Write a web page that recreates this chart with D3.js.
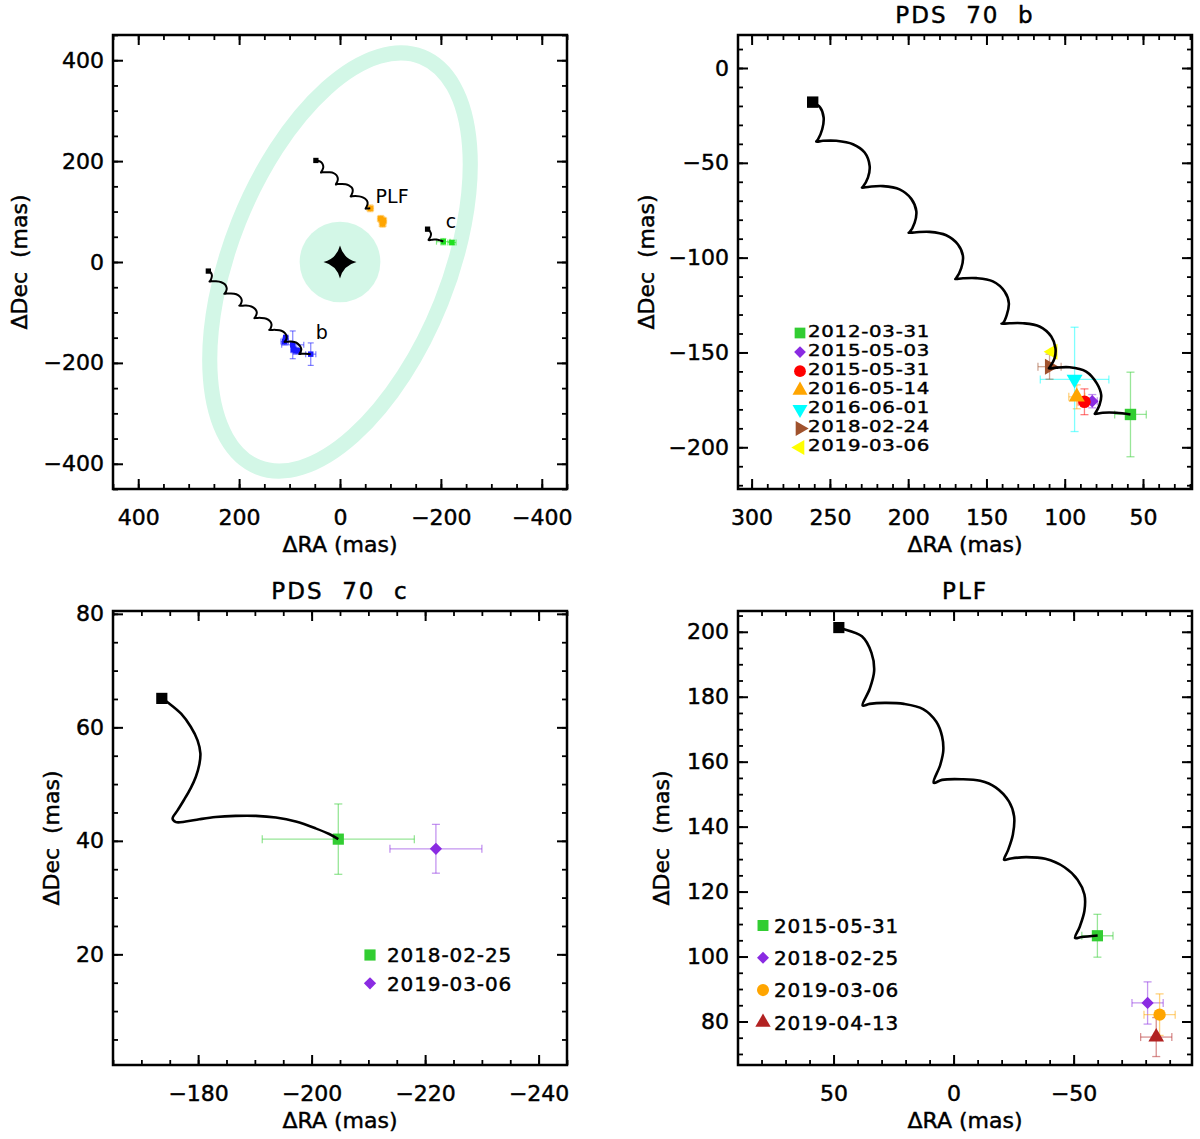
<!DOCTYPE html>
<html>
<head>
<meta charset="utf-8">
<script src="https://cdn.jsdelivr.net/npm/d3@7"></script>
<style>
  body { margin: 0; background: #fff; }
  text { font-family: "DejaVu Sans", sans-serif; }
</style>
</head>
<body>
<div id="chart"></div>
<script>
// ---------- PDS 70 b ----------
const bDates = ["2012-03-31", "2015-05-03", "2015-05-31", "2016-05-14", "2016-06-01", "2018-02-24", "2019-03-06"];
const bRA = [58.0, 82.4, 87.4, 92.3, 93.7, 109.7, 107.6];
const bDec = [-182.7, -175.7, -176.0, -173.4, -164.2, -157.5, -149.6];
const bRAerr = [10.1, 3.2, 4.0, 5.1, 21.9, 7.4, 1.5];
const bDecErr = [22.3, 3.5, 6.8, 6.3, 27.5, 6.6, 1.5];
const bColors = ["#32cd32", "#8a2be2", "#ff0000", "#ffa500", "#00ffff", "#a0522d", "#ffff00"];
const bShapes = ["square", "diamond", "circle", "triUp", "triDown", "triRight", "triLeft"];
const bTrack = [
  [261, -18], [256.2, -20.8], [254.0, -26.1], [254.9, -32.3], [257.6, -37.6], [258.7, -38.8],
  [254.4, -38.4], [245.9, -38.4], [235.3, -40.2], [227.8, -44.6], [224.6, -51.7], [225.7, -57.8], [228.9, -62.6], [229.5, -63.1],
  [224.6, -62.6], [216.1, -62.3], [205.5, -64.0], [198.0, -69.0], [194.8, -75.5], [195.9, -81.7], [199.1, -86.6], [199.7, -86.9],
  [194.8, -86.6], [186.3, -86.4], [175.7, -88.2], [168.2, -93.1], [165.0, -99.3], [166.1, -105.5], [169.3, -110.8], [169.9, -111.3],
  [165.0, -110.9], [156.5, -110.8], [145.9, -112.5], [138.4, -117.8], [135.7, -124.0], [137.0, -130.2], [139.5, -134.6], [140.4, -134.9],
  [135.2, -134.6], [126.7, -134.6], [116.1, -136.3], [108.6, -141.6], [105.9, -147.8], [106.5, -153.1], [109.3, -157.5], [110.1, -158.4],
  [105.4, -158.0], [96.9, -157.8], [86.3, -160.1], [79.5, -166.3], [76.7, -172.5], [77.8, -177.8], [80.3, -181.8], [80.8, -182.4],
  [75.7, -181.8], [67.1, -181.8], [58.0, -182.7]
];

// ---------- PDS 70 c ----------
const cDates = ["2018-02-25", "2019-03-06"];
const cRA = [-204.7, -221.9];
const cDec = [40.3, 38.6];
const cRAerr = [13.4, 8.1];
const cDecErr = [6.2, 4.3];
const cColors = ["#32cd32", "#8a2be2"];
const cShapes = ["square", "diamond"];
const cTrack = [
  [-173.6, 65.1], [-174.9, 64.2], [-177.0, 62.4], [-178.7, 60.1], [-179.9, 57.7], [-180.4, 55.4], [-180.2, 53.4],
  [-179.6, 51.3], [-178.7, 49.3], [-177.5, 47.2], [-176.4, 45.4], [-175.5, 43.9], [-176.1, 43.3], [-177.8, 43.4],
  [-180.2, 43.8], [-183.1, 44.2], [-186.6, 44.4], [-190.2, 44.4], [-193.7, 44.1], [-197.2, 43.4], [-200.7, 42.2],
  [-203.1, 41.2], [-204.7, 40.3]
];

// ---------- PLF ----------
const plfDates = ["2015-05-31", "2018-02-25", "2019-03-06", "2019-04-13"];
const plfRA = [-59.9, -80.8, -85.8, -84.4];
const plfDec = [106.4, 85.7, 82.1, 75.2];
const plfRAerr = [6.5, 6.5, 6.5, 6.5];
const plfDecErr = [6.6, 6.5, 6.4, 6.0];
const plfColors = ["#32cd32", "#8a2be2", "#ffa500", "#b22222"];
const plfShapes = ["square", "diamond", "circle", "triUp"];
const plfTrack = [
  [47.8, 201.3], [46.5, 201.0], [38.2, 198.6], [34.2, 193.5], [33.1, 187.9], [35.0, 182.3], [37.9, 177.3],
  [35.0, 177.8], [28.7, 178.1], [20.7, 177.8], [12.7, 176.2], [7.2, 172.3], [4.8, 167.8], [4.3, 163.3], [5.6, 158.9], [8.3, 153.5],
  [4.8, 154.4], [-3.2, 154.6], [-11.1, 154.1], [-17.5, 152.1], [-23.1, 147.7], [-25.2, 143.2], [-24.7, 137.6], [-22.6, 132.6], [-21.0, 129.8],
  [-23.9, 130.2], [-30.2, 130.6], [-38.2, 130.1], [-46.2, 127.5], [-51.7, 123.6], [-54.5, 119.1], [-54.5, 114.1], [-52.5, 109.1], [-50.6, 105.7],
  [-53.3, 106.0], [-60.0, 106.5]
];

// ---------- overview (disk + labels) ----------
const diskSemiMajor = 438;   // mas, ring centre line
const diskSemiMinor = 216;
const diskTilt = 21.8;       // deg from north, towards west
const diskRingWidth = 30;    // mas
const gapRadius = 80;        // mas
const overviewLabels = ["PLF", "c", "b"];
const overviewLabelRA = [-70.6, -209.7, 48.1];
const overviewLabelDec = [117.1, 67.6, -151.8];

// ---------- drawing ----------
const width = 1200, height = 1139;
const mint = "#d3f7e7";
const ink = 0.45; // slight outline so glyphs look as heavy as the original

const svg = d3.select("#chart").append("svg")
  .attr("width", width)
  .attr("height", height)
  .style("background", "#fff");

const symbolTypes = {
  square: [d3.symbolSquare, 0, 1],
  diamond: [d3.symbolSquare, 45, 0.6],
  circle: [d3.symbolCircle, 0, 0.95],
  triUp: [d3.symbolTriangle, 0, 0.85],
  triDown: [d3.symbolTriangle, 180, 0.85],
  triRight: [d3.symbolTriangle, 90, 0.85],
  triLeft: [d3.symbolTriangle, -90, 0.85]
};

function marker(g, shape, color, cx, cy, size) {
  var t = symbolTypes[shape];
  g.append("path")
    .attr("d", d3.symbol().type(t[0]).size(size * t[2])())
    .attr("transform", `translate(${cx},${cy}) rotate(${t[1]})`)
    .attr("fill", color);
}

function tickList(domain, step) {
  var lo = Math.min(domain[0], domain[1]), hi = Math.max(domain[0], domain[1]);
  return d3.range(Math.ceil(lo / step - 1e-9) * step, hi + 1e-9, step);
}

function heavy(sel) {
  return sel.attr("fill", "#000").attr("stroke", "#000").attr("stroke-width", ink);
}

function makePanel(cfg) {
  var g = svg.append("g");
  var x = d3.scaleLinear().domain(cfg.xDomain).range([cfg.x0, cfg.x1]);
  var y = d3.scaleLinear().domain(cfg.yDomain).range([cfg.y1, cfg.y0]);

  var xMaj = tickList(cfg.xDomain, cfg.xMajor), xMin = tickList(cfg.xDomain, cfg.xMinor);
  var yMaj = tickList(cfg.yDomain, cfg.yMajor), yMin = tickList(cfg.yDomain, cfg.yMinor);

  var axes = g.append("g").attr("class", "axes");

  function styleAxis(sel, w) {
    sel.select(".domain").remove();
    sel.selectAll(".tick line").attr("stroke", "#000").attr("stroke-width", w);
    sel.attr("font-size", 22).attr("font-family", "DejaVu Sans");
    heavy(sel.selectAll("text"));
  }

  // major ticks with labels (bottom / left), mirrored on top / right
  axes.append("g").attr("transform", `translate(0,${cfg.y1})`)
    .call(d3.axisBottom(x).tickValues(xMaj).tickSize(-10).tickPadding(20))
    .call(s => styleAxis(s, 2));
  axes.append("g").attr("transform", `translate(${cfg.x0},0)`)
    .call(d3.axisLeft(y).tickValues(yMaj).tickSize(-10).tickPadding(9))
    .call(s => styleAxis(s, 2));
  axes.append("g").attr("transform", `translate(0,${cfg.y0})`)
    .call(d3.axisTop(x).tickValues(xMaj).tickSize(-10).tickFormat(""))
    .call(s => styleAxis(s, 2));
  axes.append("g").attr("transform", `translate(${cfg.x1},0)`)
    .call(d3.axisRight(y).tickValues(yMaj).tickSize(-10).tickFormat(""))
    .call(s => styleAxis(s, 2));

  // minor ticks
  axes.append("g").attr("transform", `translate(0,${cfg.y1})`)
    .call(d3.axisBottom(x).tickValues(xMin).tickSize(-5).tickFormat(""))
    .call(s => styleAxis(s, 1.8));
  axes.append("g").attr("transform", `translate(0,${cfg.y0})`)
    .call(d3.axisTop(x).tickValues(xMin).tickSize(-5).tickFormat(""))
    .call(s => styleAxis(s, 1.8));
  axes.append("g").attr("transform", `translate(${cfg.x0},0)`)
    .call(d3.axisLeft(y).tickValues(yMin).tickSize(-5).tickFormat(""))
    .call(s => styleAxis(s, 1.8));
  axes.append("g").attr("transform", `translate(${cfg.x1},0)`)
    .call(d3.axisRight(y).tickValues(yMin).tickSize(-5).tickFormat(""))
    .call(s => styleAxis(s, 1.8));

  // frame
  g.append("rect")
    .attr("x", cfg.x0).attr("y", cfg.y0)
    .attr("width", cfg.x1 - cfg.x0).attr("height", cfg.y1 - cfg.y0)
    .attr("fill", "none").attr("stroke", "#000").attr("stroke-width", 2.5);

  // axis titles
  g.append("text")
    .attr("x", (cfg.x0 + cfg.x1) / 2).attr("y", cfg.y1 + 63)
    .attr("text-anchor", "middle").attr("font-size", 22)
    .style("white-space", "pre")
    .call(heavy)
    .text("ΔRA (mas)");
  g.append("text")
    .attr("transform", `translate(${cfg.yTitleX},${(cfg.y0 + cfg.y1) / 2}) rotate(-90)`)
    .attr("text-anchor", "middle").attr("font-size", 22)
    .style("white-space", "pre")
    .call(heavy)
    .text("ΔDec  (mas)");

  if (cfg.title) {
    g.append("text")
      .attr("x", (cfg.x0 + cfg.x1) / 2).attr("y", cfg.y0 - 12)
      .attr("text-anchor", "middle").attr("font-size", 23)
      .attr("letter-spacing", 2)
      .style("white-space", "pre")
      .call(heavy)
      .text(cfg.title);
  }

  var plot = g.append("g");
  return { g: plot, x: x, y: y };
}

function drawPoints(p, ra, dec, raErr, decErr, colors, shapes, opts) {
  var eb = p.g.append("g").attr("fill", "none").attr("stroke-width", opts.ebWidth);
  ra.forEach(function(r, i) {
    var cx = p.x(r), cy = p.y(dec[i]);
    var xa = p.x(r + raErr[i]), xb = p.x(r - raErr[i]);
    var ya = p.y(dec[i] + decErr[i]), yb = p.y(dec[i] - decErr[i]);
    var c = opts.color || colors[i], h = opts.cap / 2;
    var e = eb.append("g").attr("stroke", c).attr("stroke-opacity", opts.ebOpacity);
    e.append("line").attr("x1", xa).attr("x2", xb).attr("y1", cy).attr("y2", cy);
    e.append("line").attr("x1", cx).attr("x2", cx).attr("y1", ya).attr("y2", yb);
    e.append("line").attr("x1", xa).attr("x2", xa).attr("y1", cy - h).attr("y2", cy + h);
    e.append("line").attr("x1", xb).attr("x2", xb).attr("y1", cy - h).attr("y2", cy + h);
    e.append("line").attr("x1", cx - h).attr("x2", cx + h).attr("y1", ya).attr("y2", ya);
    e.append("line").attr("x1", cx - h).attr("x2", cx + h).attr("y1", yb).attr("y2", yb);
  });
  var mk = p.g.append("g");
  ra.forEach(function(r, i) {
    marker(mk, opts.shape || shapes[i], opts.color || colors[i], p.x(r), p.y(dec[i]), opts.size);
  });
}

function drawTrack(p, track, lw, startSize) {
  var line = d3.line()
    .x(d => p.x(d[0]))
    .y(d => p.y(d[1]))
    .curve(d3.curveCatmullRom.alpha(0.5));
  p.g.append("path")
    .attr("d", line(track))
    .attr("fill", "none")
    .attr("stroke", "#000")
    .attr("stroke-width", lw)
    .attr("stroke-linejoin", "round");
  marker(p.g, "square", "#000", p.x(track[0][0]), p.y(track[0][1]), startSize);
}

function drawLegend(p, dates, colors, shapes, opts) {
  var lg = p.g.append("g");
  dates.forEach(function(d, i) {
    var cy = opts.y + i * opts.dy;
    marker(lg, shapes[i], colors[i], opts.mx, cy + opts.mdy, opts.size);
    lg.append("text")
      .attr("transform", `translate(${opts.tx},${cy}) scale(${opts.stretch || 1},1)`)
      .attr("dy", "0.36em")
      .attr("font-size", opts.fontSize)
      .attr("letter-spacing", opts.spacing)
      .call(heavy)
      .text(d);
  });
}

// ---- panel 1: overview ----
var p1 = makePanel({
  x0: 113, x1: 567, y0: 35, y1: 489,
  xDomain: [450, -450], yDomain: [-450, 450],
  xMajor: 200, xMinor: 50, yMajor: 200, yMinor: 50,
  yTitleX: 27
});
var cx0 = p1.x(0), cy0 = p1.y(0);
p1.g.append("ellipse")
  .attr("cx", cx0).attr("cy", cy0)
  .attr("rx", Math.abs(p1.x(diskSemiMinor) - cx0))
  .attr("ry", Math.abs(p1.y(diskSemiMajor) - cy0))
  .attr("transform", `rotate(${diskTilt},${cx0},${cy0})`)
  .attr("fill", "none")
  .attr("stroke", mint)
  .attr("stroke-width", Math.abs(p1.x(diskRingWidth) - cx0));
p1.g.append("circle")
  .attr("cx", cx0).attr("cy", cy0)
  .attr("r", Math.abs(p1.x(gapRadius) - cx0))
  .attr("fill", mint);
var sr = 16.5, sk = sr * 0.2;
p1.g.append("path")
  .attr("transform", `translate(${cx0},${cy0})`)
  .attr("d", `M0,${-sr} Q${sk},${-sk} ${sr},0 Q${sk},${sk} 0,${sr} Q${-sk},${sk} ${-sr},0 Q${-sk},${-sk} 0,${-sr} Z`)
  .attr("fill", "#000");

var ovOpts = { size: 30, cap: 6, ebWidth: 1.2, ebOpacity: 0.55, shape: "square" };
drawPoints(p1, bRA, bDec, bRAerr, bDecErr, bColors, bShapes, Object.assign({ color: "#1a1aff" }, ovOpts));
drawPoints(p1, cRA, cDec, cRAerr, cDecErr, cColors, cShapes, Object.assign({ color: "#1fe01f" }, ovOpts));
drawPoints(p1, plfRA, plfDec, plfRAerr, plfDecErr, plfColors, plfShapes, Object.assign({ color: "#ffa500" }, ovOpts));
drawTrack(p1, bTrack, 2, 28);
drawTrack(p1, cTrack, 2, 28);
drawTrack(p1, plfTrack, 2, 28);
overviewLabels.forEach(function(t, i) {
  p1.g.append("text")
    .attr("x", p1.x(overviewLabelRA[i]))
    .attr("y", p1.y(overviewLabelDec[i]))
    .attr("font-size", 19)
    .attr("fill", "#000")
    .text(t);
});

// ---- panel 2: PDS 70 b ----
var p2 = makePanel({
  x0: 738, x1: 1192, y0: 35, y1: 489,
  xDomain: [308.7, 18.7], yDomain: [-222, 17.4],
  xMajor: 50, xMinor: 10, yMajor: 50, yMinor: 10,
  yTitleX: 654, title: "PDS  70  b"
});
drawPoints(p2, bRA, bDec, bRAerr, bDecErr, bColors, bShapes, { size: 130, cap: 8, ebWidth: 1.3, ebOpacity: 0.5 });
drawTrack(p2, bTrack, 2.6, 130);
drawLegend(p2, bDates, bColors, bShapes, { mx: 800, tx: 808, y: 331, dy: 19.1, mdy: 2, size: 115, fontSize: 16.2, spacing: 0.6, stretch: 1.22 });

// ---- panel 3: PDS 70 c ----
var p3 = makePanel({
  x0: 113, x1: 567, y0: 611, y1: 1065,
  xDomain: [-165, -245], yDomain: [0.5, 80.5],
  xMajor: 20, xMinor: 5, yMajor: 20, yMinor: 5,
  yTitleX: 59, title: "PDS  70  c"
});
drawPoints(p3, cRA, cDec, cRAerr, cDecErr, cColors, cShapes, { size: 125, cap: 8, ebWidth: 1.3, ebOpacity: 0.5 });
drawTrack(p3, cTrack, 2.6, 125);
drawLegend(p3, cDates, cColors, cShapes, { mx: 370, tx: 387, y: 955, dy: 28.3, mdy: 0, size: 125, fontSize: 20, spacing: 0.9 });

// ---- panel 4: PLF ----
var p4 = makePanel({
  x0: 738, x1: 1192, y0: 611, y1: 1065,
  xDomain: [89.8, -99.3], yDomain: [66.6, 206.4],
  xMajor: 50, xMinor: 10, yMajor: 20, yMinor: 5,
  yTitleX: 669, title: "PLF"
});
drawPoints(p4, plfRA, plfDec, plfRAerr, plfDecErr, plfColors, plfShapes, { size: 125, cap: 8, ebWidth: 1.3, ebOpacity: 0.5 });
drawTrack(p4, plfTrack, 2.6, 125);
drawLegend(p4, plfDates, plfColors, plfShapes, { mx: 763, tx: 774, y: 925.5, dy: 32.3, mdy: 0, size: 120, fontSize: 20, spacing: 0.9 });
</script>
</body>
</html>
